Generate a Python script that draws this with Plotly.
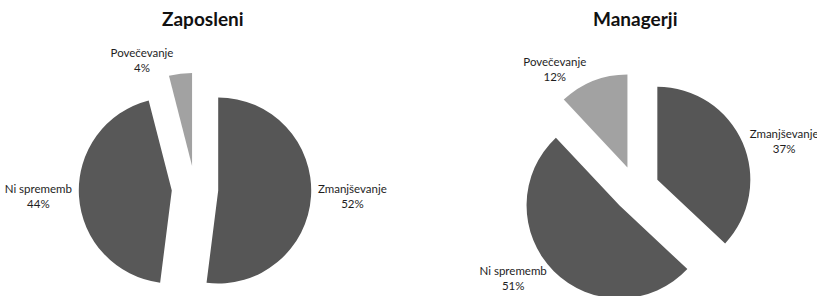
import plotly.graph_objects as go

categories = ["Zmanjševanje", "Ni sprememb", "Povečevanje"]
zaposleni = [52, 44, 4]
managerji = [37, 51, 12]
titles = ["Zaposleni", "Managerji"]

W, H = 817, 310
colors = ["#565656", "#585858", "#a2a2a2"]
font_family = "Lato, 'Open Sans', sans-serif"

R = 93.0          # slice radius in px
PULL = 0.25
HALF = R * (1 + PULL)

def dom(c, total, flip=False):
    a, b = (c - HALF) / total, (c + HALF) / total
    if flip:
        a, b = 1 - b, 1 - a
    return [max(0.0, a), min(1.0, b)]

fig = go.Figure()
for vals, cx, cy in [(zaposleni, 195, 189), (managerji, 636, 189)]:
    fig.add_trace(go.Pie(
        labels=categories,
        values=vals,
        sort=False,
        direction="clockwise",
        rotation=0,
        pull=[PULL] * len(vals),
        marker=dict(colors=colors, line=dict(width=0)),
        textposition="outside",
        texttemplate="%{label}<br>%{percent:.0%}",
        textfont=dict(family=font_family, size=11.5, color="#1e1e1e"),
        domain=dict(x=dom(cx, W), y=dom(cy, H, flip=True)),
        automargin=False,
        showlegend=False,
        hoverinfo="label+percent",
    ))

for t, x in zip(titles, [203, 635]):
    fig.add_annotation(
        text="<b>%s</b>" % t, x=x / W, y=1 - 18 / H,
        xref="paper", yref="paper",
        showarrow=False, xanchor="center", yanchor="middle",
        font=dict(family=font_family, size=19, color="#111111"),
    )

fig.update_layout(
    width=W, height=H,
    margin=dict(l=0, r=0, t=0, b=0, pad=0, autoexpand=False),
    paper_bgcolor="white", plot_bgcolor="white",
)
fig.write_html(
    "out.html",
    config={"displayModeBar": False},
    post_script=(
        "document.documentElement.style.overflow='hidden';"
        "document.body.style.overflow='hidden';"
        "document.body.style.margin='0px';"
    ),
)
